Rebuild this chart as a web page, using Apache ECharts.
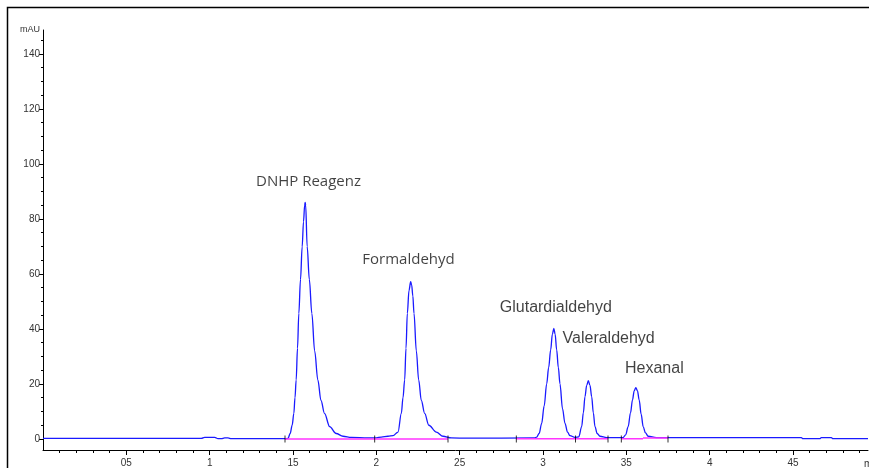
<!DOCTYPE html>
<html>
<head>
<meta charset="utf-8">
<title>Chromatogram</title>
<script src="https://cdn.jsdelivr.net/npm/echarts@6/dist/echarts.min.js"></script>
<style>
  html, body { margin: 0; padding: 0; background: #fff; }
  #chart { width: 869px; height: 468px; }
</style>
</head>
<body>
<div id="chart"></div>
<script>
// Signal trace (retention time in min, absorbance in mAU)
const traceTime = [
  0, 0.95, 0.97, 1.03, 1.05, 1.07, 1.09, 1.11, 1.13, 1.45,
  1.47, 1.483, 1.495, 1.505, 1.512, 1.519, 1.527, 1.535, 1.545, 1.555, 1.563, 1.570, 1.573,
  1.576, 1.585, 1.598, 1.613, 1.630, 1.649, 1.668, 1.689, 1.72, 1.759, 1.80, 1.85, 1.95, 2.0,
  2.03, 2.07, 2.10, 2.13, 2.150, 2.160, 2.170, 2.178, 2.186, 2.196, 2.206,
  2.212, 2.219, 2.226, 2.240, 2.254, 2.270, 2.290, 2.315, 2.36, 2.40, 2.45, 2.55,
  2.95, 2.962, 2.977, 2.992, 3.007, 3.022, 3.034, 3.046, 3.056, 3.065,
  3.073, 3.082, 3.092, 3.102, 3.117, 3.132, 3.147, 3.162, 3.192,
  3.215, 3.232, 3.242, 3.252, 3.262, 3.272, 3.282, 3.292, 3.302, 3.312, 3.325, 3.342, 3.382,
  3.48, 3.496, 3.511, 3.525, 3.537, 3.547, 3.557, 3.567, 3.577, 3.589, 3.601, 3.615, 3.631, 3.68,
  4.55, 4.56, 4.66, 4.67, 4.73, 4.74, 4.95
];
const traceSignal = [
  0.2, 0.2, 0.6, 0.6, 0.1, 0.1, 0.4, 0.4, 0.1, 0.1,
  0.2, 2, 5, 9.3, 15, 21.5, 33, 45.7, 58, 69.9, 79, 85, 86,
  85, 70, 58, 45.7, 32, 21.5, 14, 9.3, 4.5, 2, 1, 0.6, 0.4, 0.4,
  0.7, 1.0, 1.2, 2.5, 9.3, 15, 21.5, 33, 45.7, 54, 57.2,
  56, 52, 45.7, 32, 21.5, 14, 9.3, 5, 2.5, 1, 0.4, 0.3,
  0.4, 0.7, 2, 5.7, 12, 20, 26, 32.4, 38, 40.2,
  38, 32.4, 26, 20, 11, 5.7, 2.5, 1.2, 0.6,
  0.8, 4.5, 9.5, 15.4, 19.5, 21.2, 19.5, 15.4, 9.5, 4.5, 2, 1, 0.5,
  0.5, 1.5, 4.5, 9.5, 14.2, 17.5, 18.7, 17.5, 14.2, 9, 4.5, 2.2, 1, 0.5,
  0.5, 0.1, 0.1, 0.5, 0.5, 0.1, 0.1
];

// Integration baselines (start, end, level)
const baselineStart = [1.452, 2.84, 3.47, 3.60];
const baselineEnd = [2.43, 3.39, 3.60, 3.75];
const baselineLevel = [0, 0.1, 0.1, 0.4];

// Integration event markers
const markerTimes = [1.452, 1.99, 2.43, 2.84, 3.195, 3.39, 3.47, 3.75];

// Peak annotations
const peakNames = ['DNHP Reagenz', 'Formaldehyd', 'Glutardialdehyd', 'Valeraldehyd', 'Hexanal'];
const peakLabelTime = [1.593, 2.193, 3.077, 3.394, 3.668];
const peakLabelValue = [93.4, 65.3, 47.8, 36.4, 25.6];

// Axis ticks
const xLabelTicks = [0.5, 1, 1.5, 2, 2.5, 3, 3.5, 4, 4.5];
const xMinorTicks = [0.1, 0.2, 0.3, 0.4, 0.6, 0.7, 0.8, 0.9, 1.1, 1.2, 1.3, 1.4, 1.6, 1.7, 1.8, 1.9,
  2.1, 2.2, 2.3, 2.4, 2.6, 2.7, 2.8, 2.9, 3.1, 3.2, 3.3, 3.4, 3.6, 3.7, 3.8, 3.9,
  4.1, 4.2, 4.3, 4.4, 4.6, 4.7, 4.8, 4.9];
const yLabelTicks = [0, 20, 40, 60, 80, 100, 120, 140];
const yMinorTicks = [5, 10, 15, 25, 30, 35, 45, 50, 55, 65, 70, 75, 85, 90, 95,
  105, 110, 115, 125, 130, 135, 145];

const chart = echarts.init(document.getElementById('chart'), null, { renderer: 'canvas' });

const tickFont = { fontFamily: 'Liberation Sans', fontSize: 10, color: '#333' };

const option = {
  animation: false,
  backgroundColor: '#fff',
  graphic: [{
    type: 'rect',
    shape: { x: 7.5, y: 7.5, width: 900, height: 500 },
    style: { fill: 'none', stroke: '#000', lineWidth: 1.5 },
    silent: true
  }],
  grid: { left: 43, right: 1, top: 30, bottom: 18, outerBoundsMode: 'none', containLabel: false },
  xAxis: [{
    type: 'value',
    min: 0,
    max: 4.95,
    name: 'min',
    nameLocation: 'end',
    nameGap: -4,
    nameTextStyle: { ...tickFont, align: 'left', verticalAlign: 'top', padding: [9, 0, 0, 0] },
    axisLine: { show: true, onZero: false, lineStyle: { color: '#000', width: 1 } },
    axisTick: { show: true, customValues: xLabelTicks, length: 5, lineStyle: { color: '#000' } },
    axisLabel: {
      ...tickFont,
      customValues: xLabelTicks,
      margin: 8,
      formatter: (v) => String(v).replace('.', '')
    },
    splitLine: { show: false }
  }, {
    type: 'value',
    min: 0,
    max: 4.95,
    position: 'bottom',
    axisLine: { show: false, onZero: false },
    axisTick: { show: true, customValues: xMinorTicks, length: 3, lineStyle: { color: '#000' } },
    axisLabel: { show: false },
    splitLine: { show: false }
  }],
  yAxis: [{
    type: 'value',
    min: -4,
    max: 148.7,
    name: 'mAU',
    nameLocation: 'end',
    nameGap: 0,
    nameTextStyle: { ...tickFont, fontSize: 9, align: 'right', verticalAlign: 'middle', padding: [4, 3, 0, 0] },
    axisLine: { show: true, onZero: false, lineStyle: { color: '#000', width: 1 } },
    axisTick: { show: true, customValues: yLabelTicks, length: 4, lineStyle: { color: '#000' } },
    axisLabel: { ...tickFont, customValues: yLabelTicks, margin: 3 },
    splitLine: { show: false }
  }, {
    type: 'value',
    min: -4,
    max: 148.7,
    position: 'left',
    axisLine: { show: false, onZero: false },
    axisTick: { show: true, customValues: yMinorTicks, length: 2, lineStyle: { color: '#000' } },
    axisLabel: { show: false },
    splitLine: { show: false }
  }],
  series: [
    {
      name: 'signal',
      type: 'line',
      data: traceTime.map((t, i) => [t, traceSignal[i]]),
      showSymbol: false,
      smooth: 0.35,
      smoothMonotone: 'x',
      lineStyle: { color: '#1a1aff', width: 1.3 },
      z: 3
    },
    ...baselineStart.map((s, i) => ({
      name: 'baseline' + i,
      type: 'line',
      data: [[s, baselineLevel[i]], [baselineEnd[i], baselineLevel[i]]],
      showSymbol: false,
      lineStyle: { color: '#ff33ff', width: 1.5 },
      z: 4
    })),
    {
      name: 'events',
      type: 'scatter',
      data: markerTimes.map((t) => [t, 0]),
      symbol: 'rect',
      symbolSize: [1, 7],
      itemStyle: { color: '#000' },
      z: 5
    },
    {
      name: 'labels',
      type: 'scatter',
      data: peakNames.map((n, i) => ({
        value: [peakLabelTime[i], peakLabelValue[i]],
        name: n,
        label: i < 2 ? { fontFamily: 'Open Sans', fontSize: 15 } : { fontFamily: 'Liberation Sans', fontSize: 16 }
      })),
      symbolSize: 1,
      itemStyle: { color: 'transparent' },
      label: {
        show: true,
        position: 'inside',
        formatter: (p) => p.name,
        color: '#111'
      },
      z: 6
    }
  ]
};

chart.setOption(option);
</script>
</body>
</html>
